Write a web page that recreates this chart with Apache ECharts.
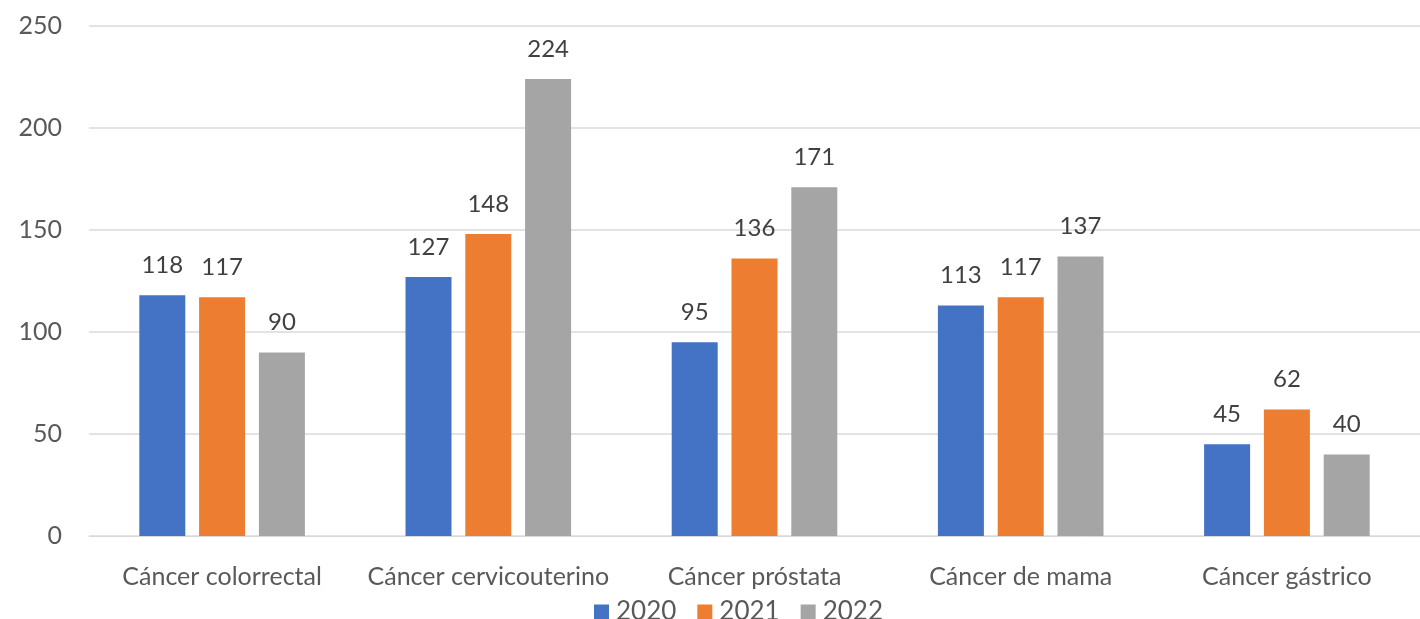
<!DOCTYPE html>
<html><head><meta charset="utf-8">
<script src="https://cdn.jsdelivr.net/npm/echarts@6/dist/echarts.min.js"></script>
<style>html,body{margin:0;padding:0;background:#fff}#c{width:1420px;height:619px}</style>
</head><body><div id="c"></div>
<script>
const categories = ['Cáncer colorrectal','Cáncer cervicouterino','Cáncer próstata','Cáncer de mama','Cáncer gástrico'];
const years = ['2020','2021','2022'];
const v2020 = [118,127,95,113,45];
const v2021 = [117,148,136,117,62];
const v2022 = [90,224,171,137,40];
const colors = ['#4472C4','#ED7D31','#A5A5A5'];
const font = 'Lato';
const chart = echarts.init(document.getElementById('c'));
const mk = (name, data, i) => ({
  name, type:'bar', data, barWidth:46, barGap:'30%',
  itemStyle:{color:colors[i]},
  label:{show:true, position:'top', distance:18, color:'#404040', fontSize:24, fontFamily:font}
});
chart.setOption({
  animation:false,
  grid:{left:89, top:26, width:1337, height:510, containLabel:false},
  legend:{top:594, left:589, itemWidth:15, itemHeight:15, itemGap:21, icon:'rect',
    textStyle:{fontSize:26, color:'#595959', fontFamily:font, padding:[0,0,0,2]}, data:years},
  xAxis:{type:'category', data:categories, axisLine:{show:true, lineStyle:{color:'#d9d9d9'}}, axisTick:{show:false},
    axisLabel:{interval:0, fontSize:25, color:'#595959', fontFamily:font, margin:28}},
  yAxis:{type:'value', min:0, max:250, interval:50,
    splitLine:{lineStyle:{color:'#e3e3e3', width:2}},
    axisLabel:{fontSize:25, color:'#595959', fontFamily:font, margin:27}},
  series:[mk(years[0], v2020, 0), mk(years[1], v2021, 1), mk(years[2], v2022, 2)]
});
</script></body></html>
